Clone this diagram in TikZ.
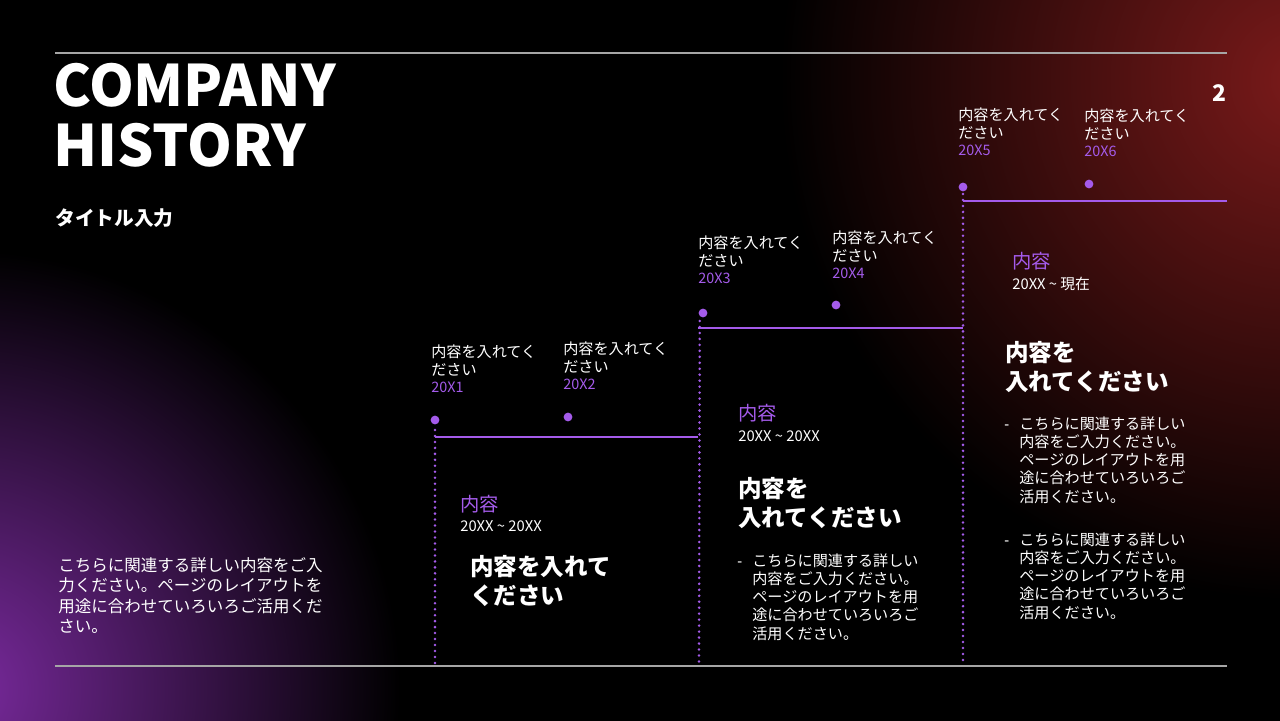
\documentclass[tikz,border=0pt]{standalone}
\usepackage{fontspec}
\setmainfont{Noto Sans CJK JP}
\newfontfamily\latf{Noto Sans}
\begin{document}
\begin{tikzpicture}[x=0.02cm,y=-0.02cm,
  txt/.style={text=white,anchor=north west,inner sep=0pt,align=left,font=\fontsize{8.6}{10.4}\selectfont},
  pur/.style={text=acc,anchor=north west,inner sep=0pt,font=\fontsize{8.2}{10}\selectfont},
  big/.style={text=white,anchor=north west,inner sep=0pt,align=left,font=\bfseries\fontsize{13.4}{16.5}\selectfont},
  stepline/.style={draw=acc,line width=1.6pt},
  dotline/.style={draw=acc,line width=1.6pt,dash pattern=on 0pt off 3.4pt,line cap=round},
  dotm/.style={circle,fill=acc,inner sep=0pt,minimum size=5pt}]
\definecolor{acc}{HTML}{A45BEA}
\definecolor{glowp}{HTML}{7A2A9E}
\definecolor{glowr}{HTML}{7A1A1A}
\useasboundingbox (0,0) rectangle (1280,720);
\fill[black] (-5,-5) rectangle (1285,725);
\begin{scope}
\clip (-5,-5) rectangle (1285,725);
\shade[inner color=glowp,outer color=black] (-40,690) circle (440);
\shade[inner color=glowr,outer color=black] (1300,80) circle (520);
\end{scope}
\draw[gray!70,line width=0.6pt] (55,53) coordinate (t1) -- (1227,53) coordinate (t2);
\draw[gray!70,line width=0.6pt] (55,666) coordinate (b1) -- (1227,666) coordinate (b2);
\node (title) [text=white,anchor=north west,inner sep=0pt,align=left,font=\bfseries\fontsize{32.5}{34}\selectfont] at (53,63) {COMPANY\\HISTORY};
\node (sub) [text=white,anchor=west,inner sep=0pt,font=\bfseries\fontsize{11.2}{13}\selectfont] at (55,218) {タイトル入力};
\node (pg) [text=white,anchor=center,inner sep=0pt,font=\bfseries\fontsize{13}{13}\selectfont] at (1219,93) {2};
\node (para) [txt,font=\fontsize{9.4}{11.6}\selectfont] at (58,557) {こちらに関連する詳しい内容をご入\\力ください。ページのレイアウトを\\用途に合わせていろいろご活用くだ\\さい。};
% steps
\coordinate (s1a) at (435,437); \coordinate (s1b) at (698,437);
\coordinate (s2a) at (698,328); \coordinate (s2b) at (963,328);
\coordinate (s3a) at (963,201); \coordinate (s3b) at (1227,201);
\draw[stepline] (s1a) -- (s1b);
\draw[stepline] (s2a) -- (s2b);
\draw[stepline] (s3a) -- (s3b);
\coordinate (v1) at (435,664); \coordinate (v2) at (699,664); \coordinate (v3) at (963,664);
\draw[dotline] ([yshift=4]s1a) -- (v1);
\draw[dotline] ([xshift=1,yshift=4]s2a) -- (v2);
\draw[dotline] ([yshift=4]s3a) -- (v3);
\foreach \n/\x/\y in {d1/435/420, d2/568/417, d3/703/313, d4/836/305, d5/963/187, d6/1089/184}{
  \node[dotm] (\n) at (\x,\y) {};
}
\foreach \n/\x/\y/\yr in {l1/431/344/1, l2/563/341/2, l3/698/235/3, l4/832/230/4, l5/958/107/5, l6/1084/108/6}{
  \node[txt] (\n) at (\x,\y) {内容を入れてく\\ださい};
  \node[pur] (\n y) at (\x,\y+38) {20X\yr};
}
% step 1 content
\node[pur,font=\fontsize{11}{12}\selectfont] (c1) at (460,495) {内容};
\node[txt,font=\fontsize{8.4}{10}\selectfont] (r1) at (460,520) {20XX \textasciitilde{} 20XX};
\node[big] (h1) at (470,555) {内容を入れて\\ください};
% step 2
\node[pur,font=\fontsize{11}{12}\selectfont] (c2) at (738,404) {内容};
\node[txt,font=\fontsize{8.4}{10}\selectfont] (r2) at (738,430) {20XX \textasciitilde{} 20XX};
\node[big] (h2) at (738,477) {内容を\\入れてください};
\node[txt] (p2a) at (737,553) {\strut\latf -};
\node[txt] (p2) at (752,553) {こちらに関連する詳しい\\内容をご入力ください。\\ページのレイアウトを用\\途に合わせていろいろご\\活用ください。};
% step 3
\node[pur,font=\fontsize{11}{12}\selectfont] (c3) at (1012,252) {内容};
\node[txt,font=\fontsize{8.4}{10}\selectfont] (r3) at (1012,277) {20XX \textasciitilde{} 現在};
\node[big] (h3) at (1005,341) {内容を\\入れてください};
\node[txt] (p3a) at (1004,416) {\strut\latf -};
\node[txt] (p3) at (1019,416) {こちらに関連する詳しい\\内容をご入力ください。\\ページのレイアウトを用\\途に合わせていろいろご\\活用ください。};
\node[txt] (p3b) at (1004,532) {\strut\latf -};
\node[txt] (p3c) at (1019,532) {こちらに関連する詳しい\\内容をご入力ください。\\ページのレイアウトを用\\途に合わせていろいろご\\活用ください。};
\end{tikzpicture}
\end{document}
